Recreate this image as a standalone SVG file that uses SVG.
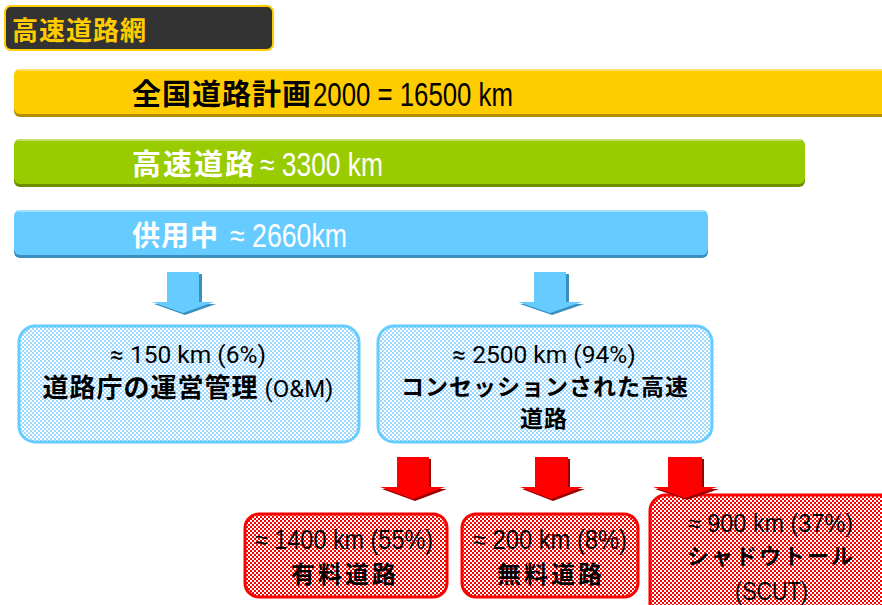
<svg xmlns="http://www.w3.org/2000/svg" width="882" height="605" viewBox="0 0 882 605">
<defs>
<style>
.cjk{font-family:"Noto Sans CJK JP","Noto Sans",sans-serif;font-weight:bold}
.num{font-family:"Liberation Sans Narrow","Liberation Sans",sans-serif}
.reg{font-family:Roboto,"Liberation Sans",sans-serif}
.bluebox{fill:url(#blueChk);stroke:#66CCFF;stroke-width:3}
.redbox{fill:url(#redChk);stroke:#FF0000;stroke-width:3}
.barr{fill:#66CCFF}
.barrs{fill:#3A8FBF}
.rarr{fill:#FF0000}
.rarrs{fill:#990000}
</style>
<pattern id="blueChk" width="4" height="4" patternUnits="userSpaceOnUse">
<rect width="4" height="4" fill="#FFFFFF"/>
<rect width="2" height="2" fill="#9ED9FF"/>
<rect x="2" y="2" width="2" height="2" fill="#9ED9FF"/>
</pattern>
<pattern id="redChk" width="4" height="4" patternUnits="userSpaceOnUse">
<rect width="4" height="4" fill="#FFFFFF"/>
<rect width="2" height="2" fill="#FF0000"/>
<rect x="2" y="2" width="2" height="2" fill="#FF0000"/>
</pattern>
</defs>

<g id="title">
<rect x="5" y="6" width="268" height="44" rx="6" fill="#333333" stroke="#FFCC00" stroke-width="2"/>
<text x="12" y="40" class="cjk" font-size="26" letter-spacing="1" fill="#FFCC00">高速道路網</text>
</g>

<g id="bar-national">
<rect x="14" y="71" width="880" height="46" rx="6" fill="#B38F00"/>
<rect x="14" y="69" width="880" height="45" rx="6" fill="#FFCC00"/>
<rect x="18" y="69" width="870" height="2" fill="#FFE066"/>
<text x="132" y="105" class="cjk" font-size="29" letter-spacing="1" fill="#000000">全国道路計画</text>
<text x="313" y="106" class="num" font-size="33" textLength="200" lengthAdjust="spacingAndGlyphs" fill="#000000">2000 = 16500 km</text>
</g>

<g id="bar-expressway">
<rect x="14" y="141" width="791" height="46" rx="6" fill="#6B8F00"/>
<rect x="14" y="139" width="791" height="45" rx="6" fill="#99CC00"/>
<rect x="18" y="139" width="783" height="2" fill="#C2E066"/>
<text x="132" y="175" class="cjk" font-size="29" letter-spacing="2" fill="#FFFFFF">高速道路</text>
<text x="260" y="176" class="num" font-size="33" textLength="123" lengthAdjust="spacingAndGlyphs" fill="#FFFFFF">≈ 3300 km</text>
</g>

<g id="bar-inservice">
<rect x="14" y="212" width="694" height="46" rx="6" fill="#3A8FBF"/>
<rect x="14" y="210" width="694" height="45" rx="6" fill="#66CCFF"/>
<rect x="18" y="210" width="686" height="2" fill="#A6E0FF"/>
<text x="132" y="246" class="cjk" font-size="28" letter-spacing="1" fill="#FFFFFF">供用中</text>
<text x="230" y="247" class="num" font-size="33" textLength="117" lengthAdjust="spacingAndGlyphs" fill="#FFFFFF">≈ 2660km</text>
</g>

<g id="connectors">
<polygon class="barrs" points="169,274 202,274 202,304 216,304 185,315 154,304 169,304"/>
<polygon class="barr" points="167,272 199,272 199,302 214,302 183,313 152,302 167,302"/>
<polygon class="barrs" points="536,274 569,274 569,304 584,304 552,315 520,304 536,304"/>
<polygon class="barr" points="534,272 566,272 566,302 582,302 550,313 518,302 534,302"/>
<polygon class="rarrs" points="399,459 431,459 431,489 447,489 415,501 382,489 399,489"/>
<polygon class="rarr" points="397,457 429,457 429,487 445,487 413,499 380,487 397,487"/>
<polygon class="rarrs" points="537,459 570,459 570,489 585,489 553,501 522,489 537,489"/>
<polygon class="rarr" points="535,457 568,457 568,487 583,487 551,499 520,487 535,487"/>
</g>

<g id="node-om">
<rect x="19" y="326" width="340" height="116" rx="16" class="bluebox"/>
<text x="188" y="363" class="reg" font-size="24.5" text-anchor="middle" fill="#000000">≈ 150 km (6%)</text>
<text x="188" y="397" text-anchor="middle" fill="#000000"><tspan class="cjk" font-size="26" letter-spacing="1">道路庁の運営管理</tspan><tspan class="reg" font-size="24"> (O&amp;M)</tspan></text>
</g>

<g id="node-concession">
<rect x="378" y="326" width="334" height="116" rx="16" class="bluebox"/>
<text x="544" y="363" class="reg" font-size="24.5" text-anchor="middle" fill="#000000">≈ 2500 km (94%)</text>
<text x="545" y="395" class="cjk" font-size="23" letter-spacing="1" text-anchor="middle" fill="#000000">コンセッションされた高速</text>
<text x="544" y="427" class="cjk" font-size="23" letter-spacing="1" text-anchor="middle" fill="#000000">道路</text>
</g>

<g id="node-toll">
<rect x="245" y="514" width="202" height="83" rx="14" class="redbox"/>
<text x="255" y="549" class="num" font-size="27" textLength="178" lengthAdjust="spacingAndGlyphs" fill="#000000">≈ 1400 km (55%)</text>
<text x="345" y="583" class="cjk" font-size="24" letter-spacing="3" text-anchor="middle" fill="#000000">有料道路</text>
</g>

<g id="node-free">
<rect x="462" y="514" width="176" height="83" rx="14" class="redbox"/>
<text x="473" y="549" class="num" font-size="27" textLength="154" lengthAdjust="spacingAndGlyphs" fill="#000000">≈ 200 km (8%)</text>
<text x="551" y="583" class="cjk" font-size="24" letter-spacing="3" text-anchor="middle" fill="#000000">無料道路</text>
</g>

<g id="node-scut">
<rect x="650" y="495" width="260" height="130" rx="16" class="redbox"/>
<text x="688" y="532" class="num" font-size="25" textLength="165" lengthAdjust="spacingAndGlyphs" fill="#000000">≈ 900 km (37%)</text>
<text x="771" y="564" class="cjk" font-size="22" letter-spacing="2" text-anchor="middle" fill="#000000">シャドウトール</text>
<text x="735" y="600" class="num" font-size="25" textLength="73" lengthAdjust="spacingAndGlyphs" fill="#000000">(SCUT)</text>
</g>

<g id="arrow-scut">
<polygon class="rarrs" points="670,459 704,459 704,489 719,489 687,500 655,489 670,489"/>
<polygon class="rarr" points="668,457 702,457 702,487 717,487 685,498 653,487 668,487"/>
</g>
</svg>
